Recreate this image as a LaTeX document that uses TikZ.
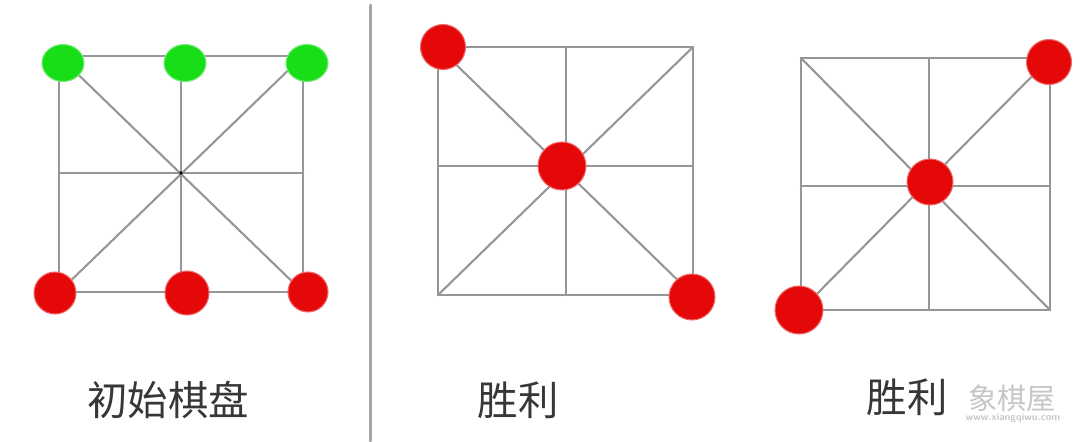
\documentclass[tikz,border=0pt]{standalone}
\usepackage{tikz}
\usepackage{tkz-euclide}
\usepackage{xcolor}
\usepackage{fontspec}
\newfontfamily\cjk{Noto Sans CJK SC}
\usetikzlibrary{shapes.geometric}

\definecolor{boardgray}{RGB}{150,150,150}
\definecolor{piecered}{RGB}{228,8,8}
\definecolor{piecegreen}{RGB}{24,222,24}
\definecolor{labelgray}{RGB}{55,55,55}

\tikzset{
  boardline/.style={boardgray,line width=0.6pt},
  redpiece/.style={circle,fill=piecered,draw=piecered!60!white,line width=0.3pt,inner sep=0pt},
  greenpiece/.style={ellipse,fill=piecegreen,draw=piecegreen!60!white,line width=0.3pt,inner sep=0pt,
    minimum width=0.42cm,minimum height=0.37cm},
  caption/.style={labelgray,font=\cjk\fontsize{11.5}{12}\selectfont,inner sep=0pt},
  watermark/.style={gray!45,inner sep=0pt}
}

\begin{document}
\begin{tikzpicture}
    \useasboundingbox (0,0) rectangle (10.8,4.41);

    % starting board
    \tkzDefPoint(0.59,3.85){A}
    \tkzDefPoint(1.81,3.85){B}
    \tkzDefPoint(3.03,3.85){C}
    \tkzDefPoint(0.59,2.68){D}
    \tkzDefPoint(1.81,2.68){O}
    \tkzDefPoint(3.03,2.68){E}
    \tkzDefPoint(0.59,1.49){F}
    \tkzDefPoint(1.81,1.49){G}
    \tkzDefPoint(3.03,1.49){H}

    \tkzDrawSegments[boardline](A,C D,E F,H A,F B,G C,H A,H C,F)
    \fill[black] (O) circle (0.018);

    \node[greenpiece] (g1) at (0.63,3.78) {};
    \node[greenpiece] (g2) at (1.85,3.78) {};
    \node[greenpiece] (g3) at (3.07,3.78) {};
    \node[redpiece,minimum size=0.42cm] (r1) at (0.55,1.48) {};
    \node[redpiece,minimum size=0.44cm] (r2) at (1.87,1.48) {};
    \node[redpiece,minimum size=0.40cm] (r3) at (3.08,1.49) {};

    \node[caption] (start) at (1.68,0.41) {初始棋盘};

    % divider
    \tkzDefPoint(3.70,4.36){S}
    \tkzDefPoint(3.70,0){T}
    \tkzDrawSegments[boardgray!85,line width=0.85pt](S,T)

    % win on the falling diagonal
    \tkzDefPoint(4.38,3.94){A2}
    \tkzDefPoint(5.66,3.94){B2}
    \tkzDefPoint(6.93,3.94){C2}
    \tkzDefPoint(4.38,2.75){D2}
    \tkzDefPoint(5.66,2.75){O2}
    \tkzDefPoint(6.93,2.75){E2}
    \tkzDefPoint(4.38,1.46){F2}
    \tkzDefPoint(5.66,1.46){G2}
    \tkzDefPoint(6.93,1.46){H2}

    \tkzDrawSegments[boardline](A2,C2 D2,E2 F2,H2 A2,F2 B2,G2 C2,H2 A2,H2 C2,F2)

    \node[redpiece,minimum size=0.45cm] (w1) at (4.43,3.94) {};
    \node[redpiece,minimum size=0.48cm] (w2) at (5.62,2.75) {};
    \node[redpiece,minimum size=0.46cm] (w3) at (6.92,1.44) {};

    \node[caption] (win1) at (5.18,0.41) {胜利};

    % win on the rising diagonal
    \tkzDefPoint(8.01,3.83){A3}
    \tkzDefPoint(9.29,3.83){B3}
    \tkzDefPoint(10.50,3.83){C3}
    \tkzDefPoint(8.01,2.55){D3}
    \tkzDefPoint(9.29,2.55){O3}
    \tkzDefPoint(10.50,2.55){E3}
    \tkzDefPoint(8.01,1.31){F3}
    \tkzDefPoint(9.29,1.31){G3}
    \tkzDefPoint(10.50,1.31){H3}

    \tkzDrawSegments[boardline](A3,C3 D3,E3 F3,H3 A3,F3 B3,G3 C3,H3 A3,H3 C3,F3)

    \node[redpiece,minimum size=0.45cm] (v1) at (10.49,3.79) {};
    \node[redpiece,minimum size=0.46cm] (v2) at (9.30,2.59) {};
    \node[redpiece,minimum size=0.48cm] (v3) at (7.99,1.31) {};

    \node[caption] (win2) at (9.07,0.44) {胜利};

    % site mark
    \node[watermark,font=\cjk\fontsize{8.3}{9}\selectfont] (mark) at (10.12,0.43) {象棋屋};
    \node[watermark,font=\sffamily\bfseries\fontsize{2.9}{3}\selectfont] (site) at (10.13,0.23) {www.xiangqiwu.com};
   \end{tikzpicture}
\end{document}
